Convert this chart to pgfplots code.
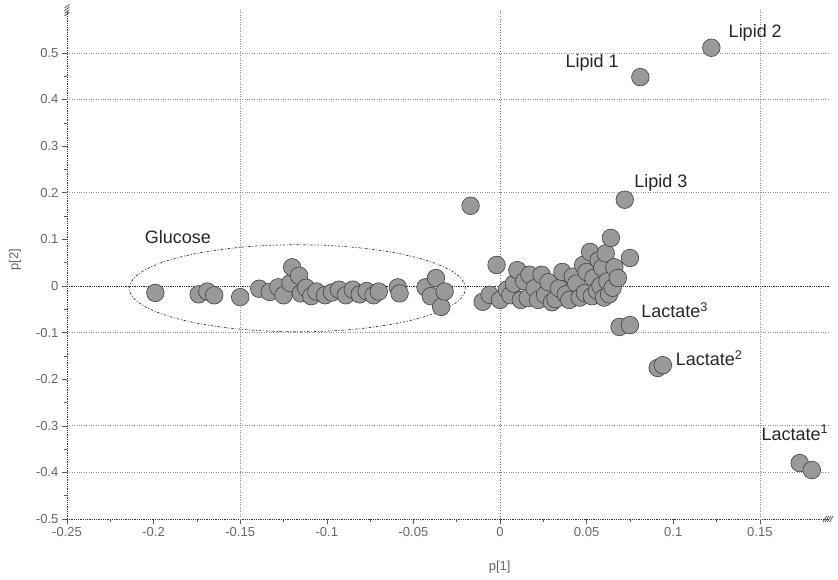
\documentclass[border=0pt]{standalone}
\usepackage{pgfplots}
\pgfplotsset{compat=1.18}
\usepackage{fontspec}
\setmainfont{Liberation Sans}
\pgfplotstableread{
x y
-0.199 -0.015
-0.174 -0.018
-0.169 -0.012
-0.165 -0.020
-0.150 -0.024
-0.139 -0.006
-0.133 -0.013
-0.128 -0.003
-0.125 -0.020
-0.121 0.006
-0.120 0.040
-0.116 0.022
-0.115 -0.016
-0.112 -0.004
-0.109 -0.022
-0.106 -0.012
-0.101 -0.020
-0.097 -0.014
-0.093 -0.008
-0.089 -0.020
-0.085 -0.008
-0.081 -0.018
-0.077 -0.011
-0.073 -0.020
-0.070 -0.012
-0.059 -0.003
-0.058 -0.016
-0.043 -0.003
-0.040 -0.022
-0.037 0.017
-0.034 -0.045
-0.032 -0.012
-0.017 0.172
-0.010 -0.034
-0.006 -0.019
-0.002 0.045
0.000 -0.030
0.004 -0.008
0.006 -0.020
0.008 0.005
0.010 0.034
0.012 -0.030
0.014 0.010
0.016 -0.026
0.017 0.024
0.020 -0.005
0.022 -0.030
0.024 0.024
0.026 -0.019
0.028 0.008
0.030 -0.035
0.032 -0.028
0.034 -0.005
0.036 0.030
0.038 -0.018
0.040 -0.030
0.042 0.020
0.044 0.005
0.046 -0.025
0.048 0.045
0.049 -0.015
0.050 0.030
0.052 0.073
0.053 -0.022
0.054 0.017
0.056 -0.010
0.057 0.055
0.058 0.000
0.059 0.039
0.060 -0.025
0.061 0.070
0.062 0.010
0.063 -0.018
0.066 0.040
0.064 0.103
0.065 -0.004
0.068 0.017
0.075 0.060
0.081 0.448
0.122 0.511
0.072 0.185
0.069 -0.088
0.075 -0.084
0.091 -0.176
0.094 -0.170
0.173 -0.380
0.180 -0.395
}\points
\begin{document}
\begin{tikzpicture}
\useasboundingbox (-67pt,-61pt) rectangle (771pt,519pt);
\begin{axis}[
  at={(0,0)}, anchor=south west,
  scale only axis, width=763pt, height=509pt,
  xmin=-0.25, xmax=0.1905, ymin=-0.5, ymax=0.592,
  clip=false,
  axis lines*=left,
  axis line style={-, densely dotted, black!80, line width=0.8pt},
  xtick={-0.25,-0.2,-0.15,-0.1,-0.05,0,0.05,0.1,0.15},
  ytick={-0.5,-0.4,-0.3,-0.2,-0.1,0,0.1,0.2,0.3,0.4,0.5},
  minor x tick num=1, minor y tick num=1,
  tick align=outside,
  major tick length=5pt, minor tick length=3pt,
  tick style={black!65, line width=0.5pt},
  /pgf/number format/assume math mode=true,
  /pgf/number format/fixed,
  /pgf/number format/precision=2,
  ticklabel style={font=\fontsize{13}{14}\selectfont, text=black!60},
  extra y ticks={-0.4,-0.3,-0.1,0.2,0.4,0.5},
  extra y tick labels={},
  extra y tick style={grid=major, major tick length=0pt},
  extra x ticks={-0.15,0.15},
  extra x tick labels={},
  extra x tick style={grid=major, major tick length=0pt},
  major grid style={dotted, black!45, line width=0.6pt},
  xlabel={p[1]}, ylabel={p[2]},
  xlabel style={at={(axis description cs:0.567,-0.094)}, anchor=center, font=\fontsize{13}{14}\selectfont, text=black!60},
  ylabel style={at={(axis description cs:-0.068,0.51)}, anchor=center, font=\fontsize{13}{14}\selectfont, text=black!60},
]
\addplot[densely dotted, black!85, line width=0.8pt] coordinates {(-0.25,0) (0.1905,0)};
\addplot[dotted, black!60, line width=0.7pt] coordinates {(0,-0.5) (0,0.592)};
\draw[black!80, line width=0.7pt, dash pattern=on 2.4pt off 1.8pt on 0.9pt off 1.8pt]
  (axis cs:-0.117,-0.005) ellipse [x radius=168pt, y radius=43.5pt];
\addplot[only marks, mark=*, mark size=8.8pt,
  mark options={fill=black!40, draw=black!75, line width=0.6pt}] table[x=x,y=y] {\points};
\begin{scope}[font=\fontsize{18}{20}\selectfont, text=black!85]
\node[anchor=center] at (axis cs:-0.186,0.105) {Glucose};
\node[anchor=west] at (axis cs:0.130,0.543) {Lipid 2};
\node[anchor=east] at (axis cs:0.0705,0.479) {Lipid 1};
\node[anchor=west] at (axis cs:0.0755,0.221) {Lipid 3};
\node[anchor=west] at (axis cs:0.0795,-0.052) {Lactate\textsuperscript{3}};
\node[anchor=west] at (axis cs:0.0995,-0.155) {Lactate\textsuperscript{2}};
\node[anchor=west] at (axis cs:0.149,-0.315) {Lactate\textsuperscript{1}};
\end{scope}
\coordinate (yb) at (rel axis cs:0,1);
\coordinate (xb) at (rel axis cs:1,0);
\end{axis}
\foreach \k in {0,1,2,3} {
  \draw[black!70, line width=0.7pt] (yb) ++(-2.5pt,{2pt-\k*2.6pt}) -- ++(5pt,3.5pt);
  \draw[black!70, line width=0.7pt] (xb) ++({-7pt+\k*2.2pt},-3pt) -- ++(3.5pt,6pt);
}
\end{tikzpicture}
\end{document}
